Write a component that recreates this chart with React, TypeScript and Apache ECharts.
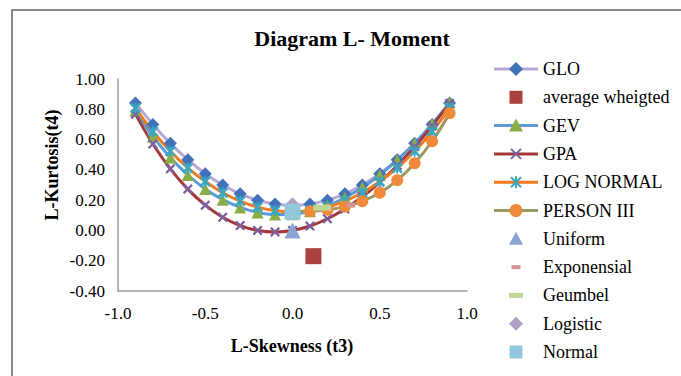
import React, { useEffect, useRef } from "react";
import * as echarts from "echarts";

const skew = [-0.9, -0.8, -0.7, -0.6, -0.5, -0.4, -0.3, -0.2, -0.1, 0, 0.1, 0.2, 0.3, 0.4, 0.5, 0.6, 0.7, 0.8, 0.9];
const glo = [0.842, 0.7, 0.575, 0.467, 0.375, 0.3, 0.242, 0.2, 0.175, 0.167, 0.175, 0.2, 0.242, 0.3, 0.375, 0.467, 0.575, 0.7, 0.842];
const gev = [0.792, 0.621, 0.481, 0.366, 0.274, 0.203, 0.152, 0.119, 0.105, 0.107, 0.127, 0.163, 0.215, 0.283, 0.366, 0.464, 0.576, 0.703, 0.844];
const gpa = [0.768, 0.571, 0.407, 0.273, 0.167, 0.087, 0.032, 0.0, -0.01, 0.0, 0.029, 0.077, 0.142, 0.222, 0.318, 0.429, 0.553, 0.69, 0.839];
const logNormal = [0.808, 0.653, 0.523, 0.413, 0.323, 0.249, 0.194, 0.154, 0.131, 0.123, 0.131, 0.154, 0.194, 0.249, 0.323, 0.413, 0.523, 0.653, 0.808];
const p3Skew = [0, 0.1, 0.2, 0.3, 0.4, 0.5, 0.6, 0.7, 0.8, 0.9];
const person3 = [0.122, 0.126, 0.136, 0.157, 0.193, 0.249, 0.331, 0.444, 0.589, 0.773];

const averageWeighted = [0.12, -0.17];
const uniform = [0, 0];
const exponential = [0.333, 0.167];
const gumbel = [0.17, 0.15];
const logistic = [0, 0.167];
const normal = [0, 0.123];

const legendNames = ["GLO", "average wheigted", "GEV", "GPA", "LOG NORMAL", "PERSON III", "Uniform", "Exponensial", "Geumbel", "Logistic", "Normal"];
const xTicks = { min: -1, max: 1, step: 0.5 };
const yTicks = { min: -0.4, max: 1, step: 0.2 };

const FONT = "Liberation Serif";
const X_PATH = "path://M0,1.6L1.6,0L5,3.4L8.4,0L10,1.6L6.6,5L10,8.4L8.4,10L5,6.6L1.6,10L0,8.4L3.4,5Z";
const AST_PATH = "path://M0,1.6L1.6,0L5,3.4L8.4,0L10,1.6L6.6,5L10,8.4L8.4,10L5,6.6L1.6,10L0,8.4L3.4,5Z M4.15,0L5.85,0L5.85,10L4.15,10Z";

const C = {
  gloLine: "#B8A7D6", gloMark: "#4171B8",
  gevLine: "#5E9AD8", gevMark: "#8AAE47",
  gpaLine: "#A23A3B", gpaMark: "#7C5FA0",
  lnLine: "#F27B20", lnMark: "#3AA6C0",
  p3Line: "#9B9862", p3Mark: "#EE8A3A",
  avg: "#AC4240", uni: "#8AA4D4", exp: "#D9908E", gum: "#BFD69A", logi: "#B1A0C6", norm: "#92C8DA",
};

const pair = (xs: number[], ys: number[]) => xs.map((x, i) => [x, ys[i]]);

function legendMarker(kind: string, color: string) {
  switch (kind) {
    case "diamond":
      return { type: "polygon", shape: { points: [[0, -7], [7, 0], [0, 7], [-7, 0]] }, style: { fill: color } };
    case "triangle":
      return { type: "polygon", shape: { points: [[0, -7], [7, 6], [-7, 6]] }, style: { fill: color } };
    case "x":
      return {
        type: "group",
        children: [
          { type: "line", shape: { x1: -5, y1: -5, x2: 5, y2: 5 }, style: { stroke: color, lineWidth: 2 } },
          { type: "line", shape: { x1: -5, y1: 5, x2: 5, y2: -5 }, style: { stroke: color, lineWidth: 2 } },
        ],
      };
    case "ast":
      return {
        type: "group",
        children: [
          { type: "line", shape: { x1: -5, y1: -5, x2: 5, y2: 5 }, style: { stroke: color, lineWidth: 2 } },
          { type: "line", shape: { x1: -5, y1: 5, x2: 5, y2: -5 }, style: { stroke: color, lineWidth: 2 } },
          { type: "line", shape: { x1: 0, y1: -6, x2: 0, y2: 6 }, style: { stroke: color, lineWidth: 2 } },
        ],
      };
    case "circle":
      return { type: "circle", shape: { cx: 0, cy: 0, r: 6.5 }, style: { fill: color } };
    case "square":
      return { type: "rect", shape: { x: -6.5, y: -6.5, width: 13, height: 13 }, style: { fill: color } };
    case "dashS":
      return { type: "rect", shape: { x: -4.5, y: -2, width: 9, height: 4 }, style: { fill: color } };
    case "dashL":
      return { type: "rect", shape: { x: -7, y: -2.5, width: 14, height: 5 }, style: { fill: color } };
  }
  return { type: "group", children: [] };
}

const legendSpec = [
  { line: C.gloLine, kind: "diamond", mark: C.gloMark },
  { line: null, kind: "square", mark: C.avg },
  { line: C.gevLine, kind: "triangle", mark: C.gevMark },
  { line: C.gpaLine, kind: "x", mark: C.gpaMark },
  { line: C.lnLine, kind: "ast", mark: C.lnMark },
  { line: C.p3Line, kind: "circle", mark: C.p3Mark },
  { line: null, kind: "triangle", mark: C.uni },
  { line: null, kind: "dashS", mark: C.exp },
  { line: null, kind: "dashL", mark: C.gum },
  { line: null, kind: "diamond", mark: C.logi },
  { line: null, kind: "square", mark: C.norm },
];

export default function App() {
  const ref = useRef<HTMLDivElement>(null);
  useEffect(() => {
    document.body.style.margin = "0";
    if (!ref.current) return;
    const chart = echarts.init(ref.current, undefined, { renderer: "svg" });

    const lineSeries = (name: string, xs: number[], ys: number[], color: string) => ({
      name: name + " line",
      type: "line",
      data: pair(xs, ys),
      smooth: 0.4,
      symbol: "none",
      z: 2,
      lineStyle: { color, width: 3 },
      silent: true,
    });
    const markSeries = (name: string, data: number[][], symbol: string, size: any, color: string) => ({
      name,
      type: "scatter",
      data,
      symbol,
      symbolSize: size,
      z: 3,
      itemStyle: { color, opacity: 1 },
      silent: true,
    });

    const legendGraphics: any[] = [];
    legendSpec.forEach((s, i) => {
      const y = 69 + i * 28.3;
      const children: any[] = [];
      if (s.line) {
        children.push({ type: "line", shape: { x1: -22, y1: 0, x2: 22, y2: 0 }, style: { stroke: s.line, lineWidth: 3 } });
      }
      children.push(legendMarker(s.kind, s.mark));
      legendGraphics.push({ type: "group", x: 516, y, children, silent: true });
      legendGraphics.push({
        type: "text",
        x: 543,
        y,
        style: { text: legendNames[i], fontFamily: FONT, fontSize: 18, fill: "#000", textVerticalAlign: "middle", textAlign: "left" },
        silent: true,
      });
    });

    chart.setOption({
      animation: false,
      backgroundColor: "#fff",
      grid: { left: 118, top: 79, width: 349, height: 212, containLabel: false },
      xAxis: {
        type: "value",
        min: xTicks.min,
        max: xTicks.max,
        interval: xTicks.step,
        axisLine: { onZero: false, lineStyle: { color: "#9a9a9a", width: 1.5 } },
        axisTick: { show: false },
        splitLine: { show: false },
        axisLabel: { formatter: (v: number) => v.toFixed(1), fontFamily: FONT, fontSize: 17, color: "#000", margin: 14 },
      },
      yAxis: {
        type: "value",
        min: yTicks.min,
        max: yTicks.max,
        interval: yTicks.step,
        axisLine: { show: true, onZero: false, lineStyle: { color: "#9a9a9a", width: 1.5 } },
        axisTick: { show: false },
        splitLine: { show: false },
        axisLabel: { formatter: (v: number) => v.toFixed(2), fontFamily: FONT, fontSize: 17, color: "#000", margin: 13 },
      },
      graphic: [
        { type: "rect", shape: { x: 12, y: 10, width: 740, height: 420 }, style: { fill: "none", stroke: "#878787", lineWidth: 2 }, silent: true, z: -10 },
        { type: "text", x: 352, y: 38, style: { text: "Diagram L- Moment", fontFamily: FONT, fontSize: 22, fontWeight: "bold", fill: "#000", textAlign: "center", textVerticalAlign: "middle" }, silent: true },
        { type: "text", x: 292, y: 346, style: { text: "L-Skewness (t3)", fontFamily: FONT, fontSize: 18, fontWeight: "bold", fill: "#000", textAlign: "center", textVerticalAlign: "middle" }, silent: true },
        { type: "text", x: 52, y: 165, rotation: Math.PI / 2, style: { text: "L-Kurtosis(t4)", fontFamily: FONT, fontSize: 18, fontWeight: "bold", fill: "#000", textAlign: "center", textVerticalAlign: "middle" }, silent: true },
        ...legendGraphics,
      ],
      series: [
        lineSeries("GLO", skew, glo, C.gloLine),
        lineSeries("GEV", skew, gev, C.gevLine),
        lineSeries("GPA", skew, gpa, C.gpaLine),
        lineSeries("LOG NORMAL", skew, logNormal, C.lnLine),
        lineSeries("PERSON III", p3Skew, person3, C.p3Line),
        markSeries("GLO", pair(skew, glo), "diamond", 13, C.gloMark),
        markSeries("average wheigted", [averageWeighted], "rect", 16, C.avg),
        markSeries("GEV", pair(skew, gev), "triangle", 12, C.gevMark),
        markSeries("GPA", pair(skew, gpa), X_PATH, 10, C.gpaMark),
        markSeries("LOG NORMAL", pair(skew, logNormal), AST_PATH, 11, C.lnMark),
        markSeries("PERSON III", pair(p3Skew, person3), "circle", 12, C.p3Mark),
        markSeries("Uniform", [uniform], "triangle", 16, C.uni),
        markSeries("Exponensial", [exponential], "rect", [9, 5], C.exp),
        markSeries("Geumbel", [gumbel], "rect", [18, 6], C.gum),
        markSeries("Logistic", [logistic], "diamond", 16, C.logi),
        markSeries("Normal", [normal], "rect", 16, C.norm),
      ],
    });
    return () => chart.dispose();
  }, []);
  return <div ref={ref} style={{ width: 681, height: 376 }} />;
}
